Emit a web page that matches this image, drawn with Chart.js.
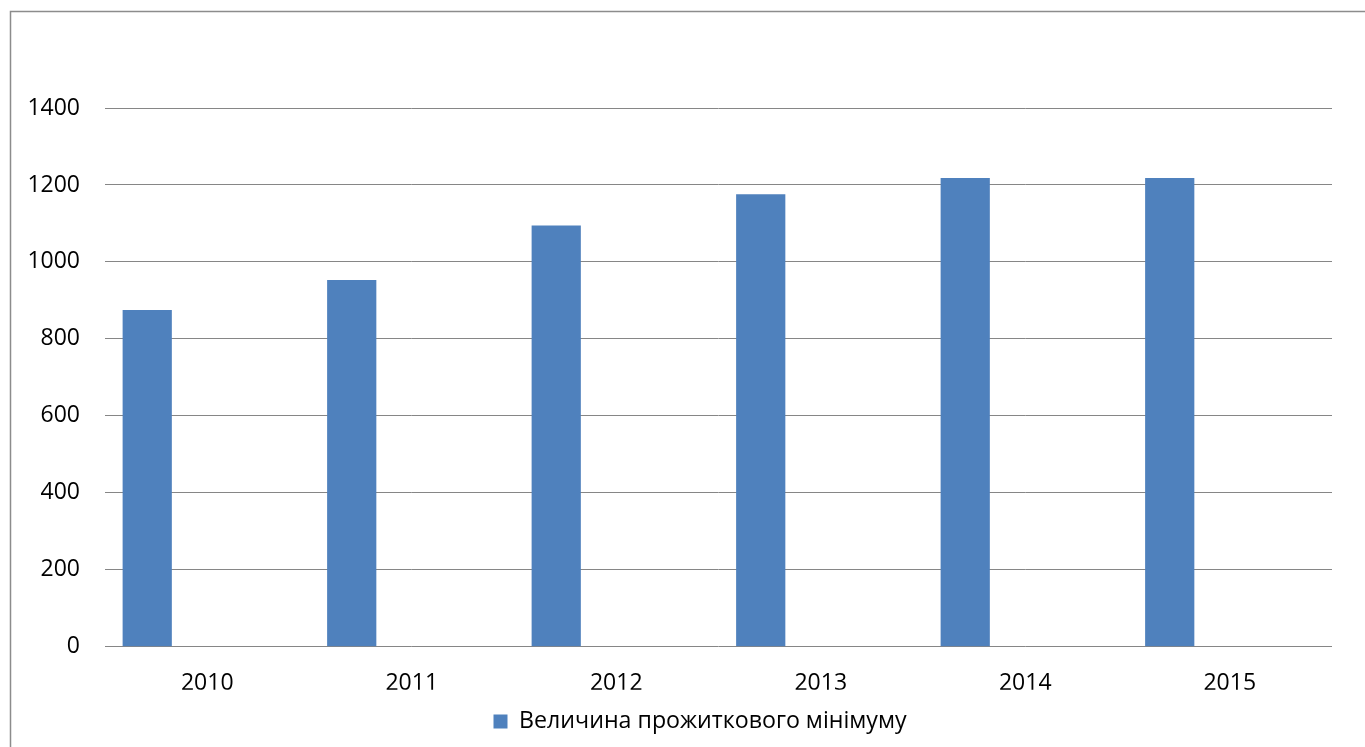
<!DOCTYPE html>
<html>
<head>
<meta charset="utf-8">
<script src="https://cdn.jsdelivr.net/npm/chart.js"></script>
<style>
    html, body { margin: 0; padding: 0; background: #ffffff; }
    #wrap { width: 1365px; height: 747px; position: relative; }
</style>
</head>
<body>
<div id="wrap"><canvas id="chart"></canvas></div>
<script>
// Data
const years = ['2010', '2011', '2012', '2013', '2014', '2015'];
const minimumValues = [875, 953, 1095, 1176, 1218, 1218];
const emptySeries = [null, null, null, null, null, null];   // placeholder slot, bars sit left in category
const seriesLabel = 'Величина прожиткового мінімуму';
const yMax = 1400;
const yStep = 200;

const barBlue = '#4F81BD';
const gridGray = '#868686';
const fontFamily = "'Open Sans', 'Noto Sans', sans-serif";

// Outer frame like the Excel chart border (runs off the right/bottom edges)
const framePlugin = {
    id: 'frame',
    beforeDraw(chart) {
        const ctx = chart.ctx;
        ctx.save();
        ctx.fillStyle = '#ffffff';
        ctx.fillRect(0, 0, chart.width, chart.height);
        ctx.strokeStyle = '#8c8c8c';
        ctx.lineWidth = 1.5;
        ctx.strokeRect(10.5, 11.5, chart.width + 20, chart.height + 20);
        ctx.restore();
    }
};

// Legend in the reference is centred a bit right of the canvas centre
const legendShift = {
    id: 'legendShift',
    afterLayout(chart) {
        if (chart.legend) {
            chart.legend.left += 34;
            chart.legend.right += 34;
        }
    }
};

new Chart(document.getElementById('chart').getContext('2d'), {
    type: 'bar',
    data: {
        labels: years,
        datasets: [{
            label: seriesLabel,
            data: minimumValues,
            backgroundColor: barBlue,
            borderWidth: 0,
        }, {
            label: '',
            data: emptySeries,
            backgroundColor: 'rgba(0,0,0,0)',
        }],
    },
    plugins: [framePlugin, legendShift],
    options: {
        responsive: true,
        maintainAspectRatio: false,
        animation: false,
        categoryPercentage: 1.174,
        barPercentage: 0.41,
        layout: {
            padding: { top: 108, left: 0, right: 33, bottom: 4 }
        },
        scales: {
            x: {
                afterFit: (scale) => { scale.height = 43; },
                grid: { display: false },
                border: { display: false },
                ticks: {
                    color: '#000000',
                    padding: 15,
                    font: { family: fontFamily, size: 23 },
                    maxRotation: 0,
                },
            },
            y: {
                min: 0,
                max: yMax,
                afterFit: (scale) => { scale.width = 105; },
                grid: {
                    color: gridGray,
                    lineWidth: 1,
                    drawTicks: false,
                },
                border: { display: false },
                ticks: {
                    stepSize: yStep,
                    color: '#000000',
                    padding: 25,
                    font: { family: fontFamily, size: 23 },
                    callback: (value) => String(value),
                },
            },
        },
        plugins: {
            legend: {
                display: true,
                position: 'bottom',
                labels: {
                    boxWidth: 14,
                    boxHeight: 14,
                    padding: 20,
                    color: '#000000',
                    font: { family: fontFamily, size: 23.2 },
                    filter: (item) => item.datasetIndex === 0,
                },
            },
            tooltip: { enabled: false },
        },
    },
});
</script>
</body>
</html>
